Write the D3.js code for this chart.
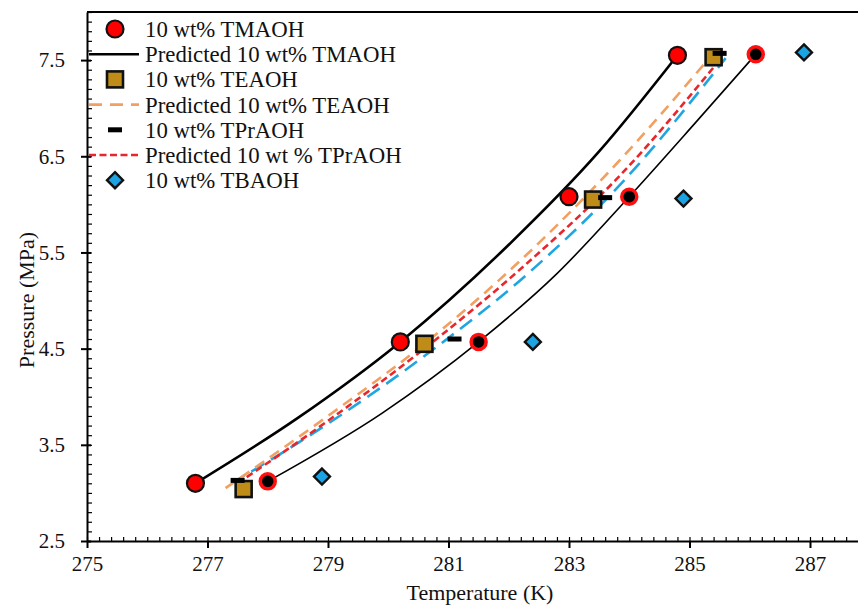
<!DOCTYPE html>
<meta charset="utf-8">
<script src="https://d3js.org/d3.v7.min.js"></script>
<style type="text/css">
  body { margin: 0; background: #fff; }
  text { font-family: "Liberation Serif", "Times New Roman", serif; fill: #111; }
</style>
<body></body>
<script>

// measured hydrate equilibrium points (T in K, P in MPa)
var tmaohT = [276.8, 280.2, 283.0, 284.8];
var tmaohP = [3.10, 4.57, 6.08, 7.55];
var teaohT = [277.6, 280.6, 283.4, 285.4];
var teaohP = [3.04, 4.55, 6.05, 7.53];
var tpraohT = [277.5, 281.1, 283.6, 285.5];
var tpraohP = [3.13, 4.60, 6.07, 7.57];
var tbaohT = [278.9, 282.4, 284.9, 286.9];
var tbaohP = [3.17, 4.57, 6.06, 7.58];
// red ring / black centre points (no legend entry)
var refT = [278.0, 281.5, 284.0, 286.1];
var refP = [3.12, 4.57, 6.08, 7.56];

// predicted curves
var predTmaohT = [276.8, 278.5, 280.2, 282.0, 283.5, 284.8];
var predTmaohP = [3.10, 3.78, 4.57, 5.58, 6.55, 7.55];
var predRefT = [278.0, 279.9, 281.5, 282.8, 284.0, 285.1, 286.1];
var predRefP = [3.12, 3.83, 4.57, 5.28, 6.08, 6.85, 7.56];
var predTeaohT = [277.3, 279.0, 280.6, 282.2, 283.8, 285.3];
var predTeaohP = [3.05, 3.80, 4.55, 5.42, 6.43, 7.50];
var predTpraohT = [277.5, 279.0, 280.6, 282.2, 283.8, 285.5];
var predTpraohP = [3.10, 3.75, 4.50, 5.33, 6.27, 7.50];
var predTbaohT = [277.4, 279.0, 280.7, 282.3, 283.9, 285.6];
var predTbaohP = [3.10, 3.72, 4.47, 5.27, 6.24, 7.52];

var xTicks = [275, 277, 279, 281, 283, 285, 287];
var yTicks = [2.5, 3.5, 4.5, 5.5, 6.5, 7.5];

var legendLabels = ["10 wt% TMAOH", "Predicted 10 wt% TMAOH", "10 wt% TEAOH",
  "Predicted 10 wt% TEAOH", "10 wt% TPrAOH", "Predicted 10 wt % TPrAOH", "10 wt% TBAOH"];

var width = 858, height = 610;
var margin = {left: 87, top: 12, bottom: 541};

var svg = d3.select("body").append("svg")
  .attr("width", width)
  .attr("height", height);

var xScale = d3.scaleLinear().domain([275, 289]).range([margin.left, margin.left + 14 * 60.25]);
var yScale = d3.scaleLinear().domain([2.5, 8.0]).range([margin.bottom, margin.top]);

function pts(xs, ys) { return xs.map(function(x, i) { return [x, ys[i]]; }); }

// frame top line
svg.append("line")
  .attr("x1", margin.left).attr("x2", width)
  .attr("y1", margin.top).attr("y2", margin.top)
  .attr("stroke", "#000").attr("stroke-width", 2);

// minor ticks
var xMinor = d3.range(275, 289.01, 0.2);
var yMinor = d3.range(2.5, 8.001, 0.1);

svg.append("g").attr("transform", `translate(0,${margin.bottom})`)
  .call(d3.axisBottom(xScale).tickValues(xMinor).tickSize(-4).tickFormat(""))
  .call(g => g.select(".domain").remove())
  .selectAll("line").attr("stroke-width", 1.2);

svg.append("g").attr("transform", `translate(${margin.left},0)`)
  .call(d3.axisLeft(yScale).tickValues(yMinor).tickSize(-5).tickFormat(""))
  .call(g => g.select(".domain").remove())
  .selectAll("line").attr("stroke-width", 1.2);

// major axes
var xAxisGroup = svg.append("g")
  .attr("class", "x axis")
  .attr("transform", `translate(0,${margin.bottom})`)
  .call(d3.axisBottom(xScale).tickValues(xTicks).tickSize(7).tickSizeOuter(0).tickPadding(8).tickFormat(d3.format("d")));
xAxisGroup.select(".domain").attr("stroke-width", 2);
xAxisGroup.selectAll("line").attr("stroke-width", 2);
xAxisGroup.selectAll("text").style("font-size", "21px").style("font-family", "Liberation Serif");

var yAxisGroup = svg.append("g")
  .attr("class", "y axis")
  .attr("transform", `translate(${margin.left},0)`)
  .call(d3.axisLeft(yScale).tickValues(yTicks).tickSize(6).tickSizeOuter(0).tickPadding(16).tickFormat(d3.format(".1f")));
yAxisGroup.select(".domain").attr("stroke-width", 2);
yAxisGroup.selectAll("line").attr("stroke-width", 2).attr("x2", -6).attr("x1", 4);
yAxisGroup.selectAll("text").style("font-size", "21px").style("font-family", "Liberation Serif");

svg.append("text")
  .attr("x", 480).attr("y", 600)
  .attr("text-anchor", "middle")
  .style("font-size", "22px")
  .text("Temperature (K)");

svg.append("text")
  .attr("transform", "translate(34,300) rotate(-90)")
  .attr("text-anchor", "middle")
  .style("font-size", "22px")
  .text("Pressure (MPa)");

// curves
var line = d3.line()
  .x(d => xScale(d[0]))
  .y(d => yScale(d[1]))
  .curve(d3.curveMonotoneX);

var curves = [
  { data: pts(predRefT, predRefP), color: "#000", w: 1.6, dash: null },
  { data: pts(predTbaohT, predTbaohP), color: "#1fa6e0", w: 2.6, dash: "15,8" },
  { data: pts(predTpraohT, predTpraohP), color: "#e8262c", w: 2.6, dash: "7,4" },
  { data: pts(predTeaohT, predTeaohP), color: "#f2a062", w: 2.6, dash: "11,7" },
  { data: pts(predTmaohT, predTmaohP), color: "#000", w: 2.6, dash: null }
];

svg.selectAll(".curve")
  .data(curves)
  .enter().append("path")
  .attr("class", "curve")
  .attr("d", d => line(d.data))
  .attr("fill", "none")
  .attr("stroke", d => d.color)
  .attr("stroke-width", d => d.w)
  .attr("stroke-dasharray", d => d.dash);

// marker drawing helpers
function circleMark(sel) {
  sel.append("circle").attr("r", 8.5).attr("fill", "#ff0000").attr("stroke", "#111").attr("stroke-width", 2.2);
}
function ringMark(sel) {
  sel.append("circle").attr("r", 7.5).attr("fill", "#000").attr("stroke", "#ff1010").attr("stroke-width", 3.5);
}
function squareMark(sel) {
  sel.append("rect").attr("x", -8).attr("y", -8).attr("width", 16).attr("height", 16)
    .attr("fill", "#bf8d17").attr("stroke", "#111").attr("stroke-width", 2.6);
}
function barMark(sel) {
  sel.append("rect").attr("x", -7).attr("y", -2.5).attr("width", 14).attr("height", 5).attr("fill", "#000");
}
function diamondMark(sel) {
  sel.append("path").attr("d", "M0,-8L8,0L0,8L-8,0Z")
    .attr("fill", "#1ba3e3").attr("stroke", "#111").attr("stroke-width", 2.4);
}

function drawPoints(xs, ys, mark) {
  svg.append("g").selectAll("g")
    .data(pts(xs, ys))
    .enter().append("g")
    .attr("transform", d => `translate(${xScale(d[0])},${yScale(d[1])})`)
    .call(mark);
}

drawPoints(tmaohT, tmaohP, circleMark);
drawPoints(refT, refP, ringMark);
drawPoints(teaohT, teaohP, squareMark);
drawPoints(tpraohT, tpraohP, barMark);
drawPoints(tbaohT, tbaohP, diamondMark);

// legend
var legendMarks = [
  { mark: circleMark }, { line: "#000", dash: null }, { mark: squareMark },
  { line: "#f2a062", dash: "13,8" }, { mark: barMark }, { line: "#e8262c", dash: "7,3.5" },
  { mark: diamondMark }
];

var legend = svg.append("g");
legendLabels.forEach(function(label, i) {
  var y = 29 + i * 25.2;
  var item = legendMarks[i];
  if (item.mark) {
    legend.append("g").attr("transform", `translate(115,${y})`).call(item.mark);
  } else {
    legend.append("line")
      .attr("x1", 89).attr("x2", 139).attr("y1", y).attr("y2", y)
      .attr("stroke", item.line).attr("stroke-width", 2.6)
      .attr("stroke-dasharray", item.dash);
  }
  legend.append("text")
    .attr("x", 145).attr("y", y)
    .attr("dy", "0.35em")
    .style("font-size", "22.8px")
    .text(label);
});

</script>
